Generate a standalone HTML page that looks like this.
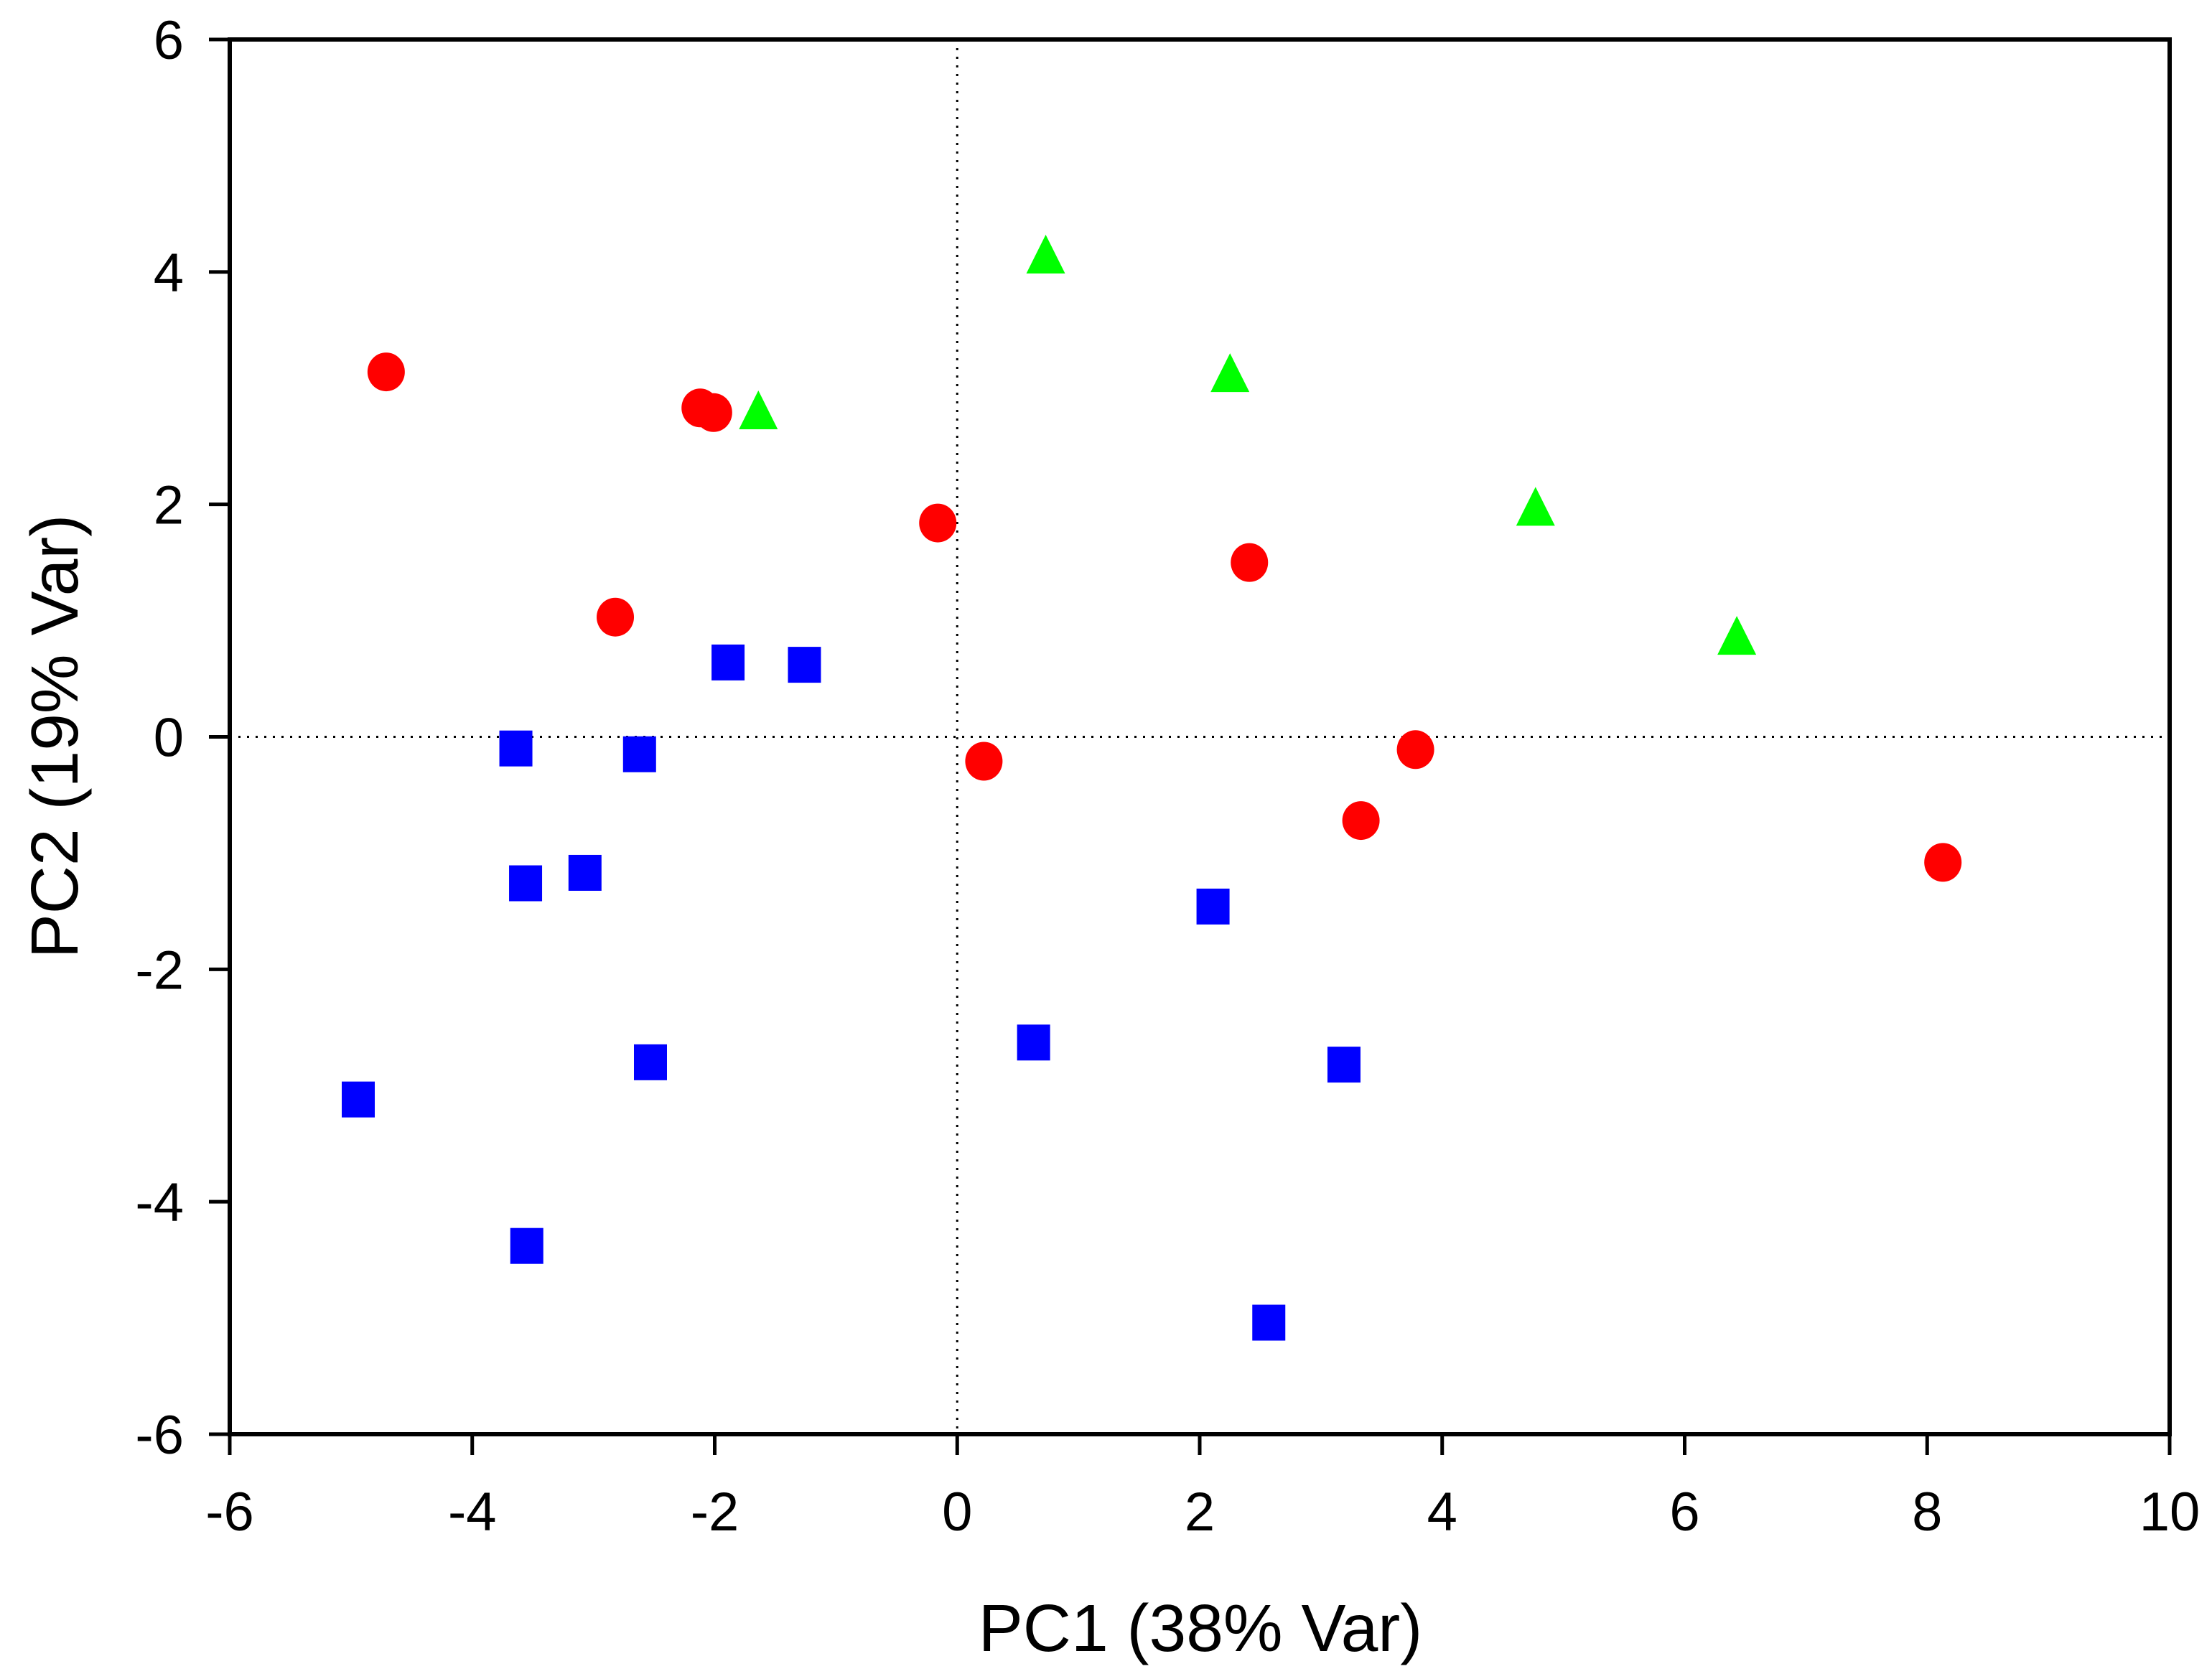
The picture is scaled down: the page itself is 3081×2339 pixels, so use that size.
<!DOCTYPE html>
<html><head><meta charset="utf-8"><style>
html,body{margin:0;padding:0;background:#fff;}
svg{display:block;}
text{font-family:"Liberation Sans",Arial,sans-serif;fill:#000;}
</style></head><body>
<svg id="chart" width="3081" height="2339" viewBox="0 0 3081 2339" xmlns="http://www.w3.org/2000/svg">
<rect x="0" y="0" width="3081" height="2339" fill="#fff"/>
<g id="grid"></g>
<g id="marks"></g>
<g id="axes"></g>
<text x="1672" y="2300" font-size="93" text-anchor="middle">PC1 (38% Var)</text>
<text transform="translate(108,1026) rotate(-90)" font-size="93" text-anchor="middle">PC2 (19% Var)</text>
</svg>
<script>
const xTicks = [-6,-4,-2,0,2,4,6,8,10];
const yTicks = [-6,-4,-2,0,2,4,6];
const redX = [-4.71,-2.12,-2.01,-2.82,-0.16,0.22,2.41,3.33,3.78,8.13];
const redY = [3.14,2.83,2.79,1.03,1.84,-0.21,1.50,-0.72,-0.11,-1.08];
const greenX = [0.73,-1.64,2.25,4.77,6.43];
const greenY = [4.11,2.77,3.09,1.94,0.83];
const blueX = [-1.89,-1.26,-3.64,-2.62,-3.56,-3.07,-4.94,-2.53,-3.55,0.63,2.11,3.19,2.57];
const blueY = [0.64,0.62,-0.10,-0.15,-1.26,-1.17,-3.12,-2.80,-4.38,-2.63,-1.46,-2.82,-5.04];

const L=320,R=3022,T=55,B=1998,xmin=-6,xmax=10,ymin=-6,ymax=6;
function sx(v){return L+(v-xmin)/(xmax-xmin)*(R-L);}
function sy(v){return B-(v-ymin)/(ymax-ymin)*(B-T);}
const NS="http://www.w3.org/2000/svg";
function mk(tag,attrs,parent){const e=document.createElementNS(NS,tag);for(const k in attrs)e.setAttribute(k,attrs[k]);parent.appendChild(e);return e;}
const grid=document.getElementById('grid'),marks=document.getElementById('marks'),axes=document.getElementById('axes');

let h=mk('line',{x1:L,x2:R,y1:sy(0),y2:sy(0),stroke:'#000','stroke-width':3,'stroke-dasharray':'3 9'},grid);


let v=mk('line',{x1:sx(0),x2:sx(0),y1:T,y2:B,stroke:'#000','stroke-width':3,'stroke-dasharray':'3 9'},grid);



for(let i=0;i<redX.length;i++){
  const c=mk('ellipse',{cx:sx(redX[i]),cy:sy(redY[i]),rx:26,ry:27,fill:'#ff0000'},marks);
  
  
}
for(let i=0;i<greenX.length;i++){
  const x=sx(greenX[i]),y=sy(greenY[i]);
  const p=mk('polygon',{points:`${x-27},${y+20} ${x+27},${y+20} ${x},${y-34}`,fill:'#00ff00'},marks);
  
  
}
for(let i=0;i<blueX.length;i++){
  const x=sx(blueX[i]),y=sy(blueY[i]);
  const s=mk('rect',{x:x-23,y:y-25,width:46,height:50,fill:'#0000ff'},marks);
  
  
}

const frame=mk('rect',{x:L,y:T,width:R-L,height:B-T,fill:'none',stroke:'#000','stroke-width':6},axes);



xTicks.forEach(t=>{
  const x=sx(t);
  const tk=mk('line',{x1:x,x2:x,y1:B,y2:B+29,stroke:'#000','stroke-width':5},axes);
  
  
  const lb=mk('text',{x:x,y:2132,'font-size':76,'text-anchor':'middle'},axes);
  lb.textContent=String(t);
  
  
});
yTicks.forEach(t=>{
  const y=sy(t);
  const tk=mk('line',{x1:L-29,x2:L,y1:y,y2:y,stroke:'#000','stroke-width':5},axes);
  
  
  const lb=mk('text',{x:256,y:y+27,'font-size':76,'text-anchor':'end'},axes);
  lb.textContent=String(t);
  
  
});
</script>
</body></html>
